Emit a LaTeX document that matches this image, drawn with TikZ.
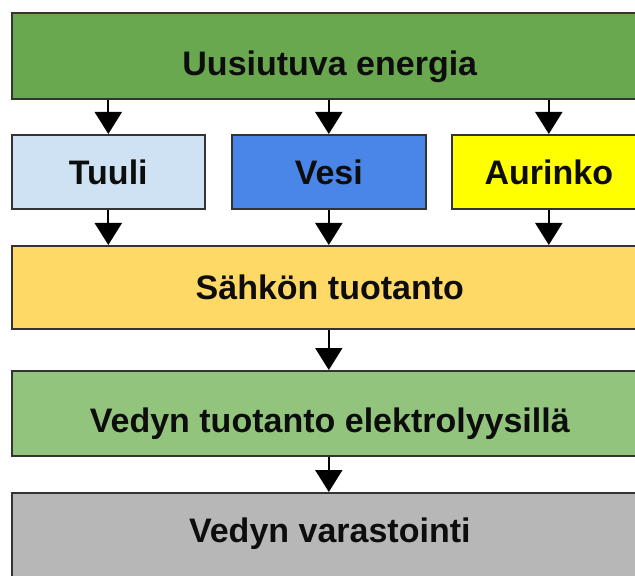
\documentclass[tikz,border=0pt]{standalone}
\usepackage{fontspec}
\setmainfont{Liberation Sans}
\usetikzlibrary{arrows.meta}

\definecolor{energia}{HTML}{6AA84F}
\definecolor{tuuli}{HTML}{CFE2F3}
\definecolor{vesi}{HTML}{4A86E8}
\definecolor{aurinko}{HTML}{FFFF00}
\definecolor{sahko}{HTML}{FFD966}
\definecolor{elektro}{HTML}{93C47D}
\definecolor{varasto}{HTML}{B7B7B7}

\tikzset{
	laatikko/.style={draw=black!80, line width=0.8pt, rectangle, anchor=north west,
		inner sep=0pt, font=\fontsize{17}{20}\selectfont\bfseries, text=black!95},
	nuoli/.style={-{Triangle[width=13.5pt,length=11pt]}, line width=1pt, black}
}

\begin{document}
\begin{tikzpicture}[x=0.5pt, y=-0.5pt]
		\clip (0,0) rectangle (635,576);
		
		\node[laatikko, fill=energia, minimum width=318pt, minimum height=43pt, text height=20pt, text depth=0pt] (energia) at (11,12) {Uusiutuva energia};
		
		\node[laatikko, fill=tuuli, minimum width=96.5pt, minimum height=37pt, text height=13pt, text depth=0pt] (tuuli) at (11,134) {Tuuli};
		\node[laatikko, fill=vesi, minimum width=97pt, minimum height=37pt, text height=13pt, text depth=0pt] (vesi) at (231,134) {Vesi};
		\node[laatikko, fill=aurinko, minimum width=97pt, minimum height=37pt, text height=13pt, text depth=0pt] (aurinko) at (451,134) {Aurinko};
		
		\node[laatikko, fill=sahko, minimum width=318pt, minimum height=41.5pt, text height=12.5pt, text depth=0pt] (sahko) at (11,245) {Sähkön tuotanto};
		\node[laatikko, fill=elektro, minimum width=318pt, minimum height=42.5pt, text height=19.5pt, text depth=0pt] (elektro) at (11,370) {Vedyn tuotanto elektrolyysillä};
		\node[laatikko, fill=varasto, minimum width=318pt, minimum height=42.5pt, text height=7.5pt, text depth=0pt] (varasto) at (11,492) {Vedyn varastointi};
		
		\foreach \n in {tuuli, vesi, aurinko} {
			\draw[nuoli] (energia.south -| \n.north) -- (\n.north);
			\draw[nuoli] (\n.south) -- (sahko.north -| \n.south);
		}
		
		\draw[nuoli] (sahko.south -| vesi.south) -- (elektro.north -| vesi.south);
		\draw[nuoli] (elektro.south -| vesi.south) -- (varasto.north -| vesi.south);
	\end{tikzpicture}
\end{document}
